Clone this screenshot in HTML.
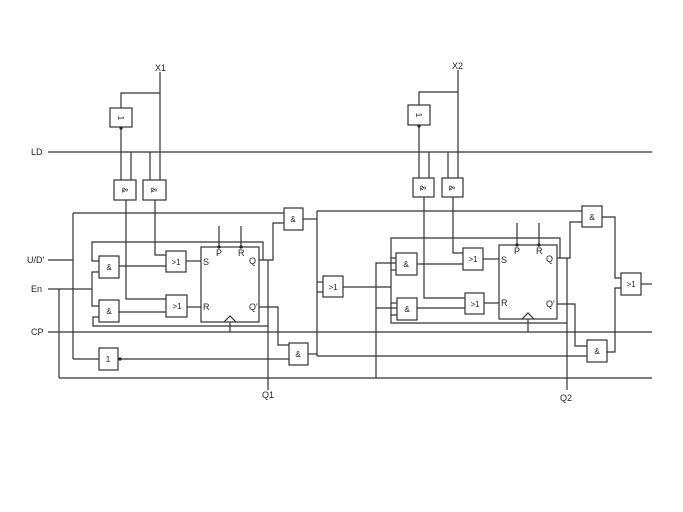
<!DOCTYPE html>
<html><head><meta charset="utf-8"><style>
html,body{margin:0;padding:0;background:#fff}
svg{display:block}
text{font-family:"Liberation Sans",sans-serif;fill:#222}
</style></head><body>
<svg width="683" height="512" viewBox="0 0 683 512" xmlns="http://www.w3.org/2000/svg">
<g stroke="#333" stroke-width="1.2" fill="none">
<!-- buses -->
<line x1="48" y1="152" x2="652" y2="152"/>
<line x1="48" y1="332" x2="652" y2="332"/>
<line x1="59" y1="378" x2="652" y2="378"/>
<polyline points="48,289 92,289"/>
<line x1="59" y1="289" x2="59" y2="378"/>
<polyline points="48,260 73,260"/>
<line x1="73" y1="213" x2="73" y2="359"/>
<polyline points="73,213 284,213"/>
<polyline points="73,359 99,359"/>
<!-- stage 1 top -->
<line x1="160" y1="72" x2="160" y2="180"/>
<polyline points="160,93 121,93 121,108"/>
<rect x="110" y="108" width="22" height="19" fill="#fff"/>
<line x1="121" y1="128" x2="121" y2="180"/>
<line x1="131" y1="152" x2="131" y2="180"/>
<line x1="150" y1="152" x2="150" y2="180"/>
<rect x="114" y="180" width="22" height="20" fill="#fff"/>
<rect x="143" y="180" width="23" height="20" fill="#fff"/>
<polyline points="126,200 126,299 166,299"/>
<polyline points="155,200 155,255 166,255"/>
<!-- stage 1 gates -->
<rect x="166" y="251" width="20" height="21" fill="#fff"/>
<rect x="166" y="295" width="21" height="22" fill="#fff"/>
<line x1="186" y1="261" x2="201" y2="261"/>
<line x1="187" y1="307" x2="201" y2="307"/>
<rect x="201" y="247" width="58" height="75" fill="#fff"/>
<line x1="219" y1="226" x2="219" y2="247"/>
<line x1="241" y1="226" x2="241" y2="247"/>
<polyline points="224,322 230,316 236,322"/>
<line x1="230" y1="322" x2="230" y2="332"/>
<rect x="99" y="256" width="20" height="22" fill="#fff"/>
<rect x="99" y="300" width="20" height="22" fill="#fff"/>
<line x1="119" y1="266" x2="166" y2="266"/>
<line x1="119" y1="312" x2="166" y2="312"/>
<polyline points="99,261 92,261 92,242 263,242 263,260"/>
<polyline points="99,272 92,272 92,306 99,306"/>
<polyline points="99,317 93,317 93,326 268,326"/>
<polyline points="259,260 273,260 273,223 284,223"/>
<line x1="268" y1="260" x2="268" y2="390"/>
<polyline points="259,307 278,307 278,345 289,345"/>
<rect x="284" y="208" width="19" height="22" fill="#fff"/>
<rect x="289" y="343" width="19" height="22" fill="#fff"/>
<rect x="99" y="348" width="19" height="22" fill="#fff"/>
<line x1="120" y1="359" x2="289" y2="359"/>
<line x1="303" y1="219" x2="317" y2="219"/>
<line x1="308" y1="354" x2="317" y2="354"/>
<line x1="317" y1="211" x2="317" y2="356"/>
<line x1="317" y1="211" x2="582" y2="211"/>
<line x1="317" y1="356" x2="587" y2="356"/>
<line x1="317" y1="282" x2="323" y2="282"/>
<line x1="317" y1="292" x2="323" y2="292"/>
<rect x="323" y="276" width="20" height="21" fill="#fff"/>
<line x1="343" y1="287" x2="391" y2="287"/>
<!-- stage 2 top -->
<line x1="458" y1="70" x2="458" y2="178"/>
<polyline points="458,92 419,92 419,105"/>
<rect x="408" y="105" width="22" height="20" fill="#fff"/>
<line x1="419" y1="126" x2="419" y2="178"/>
<line x1="429" y1="152" x2="429" y2="178"/>
<line x1="448" y1="152" x2="448" y2="178"/>
<rect x="413" y="178" width="21" height="19" fill="#fff"/>
<rect x="442" y="178" width="21" height="19" fill="#fff"/>
<polyline points="424,197 424,298 465,298"/>
<polyline points="453,197 453,253 463,253"/>
<rect x="463" y="248" width="20" height="22" fill="#fff"/>
<rect x="465" y="293" width="19" height="21" fill="#fff"/>
<line x1="483" y1="259" x2="499" y2="259"/>
<line x1="484" y1="303" x2="499" y2="303"/>
<rect x="499" y="245" width="58" height="74" fill="#fff"/>
<line x1="517" y1="223" x2="517" y2="245"/>
<line x1="539" y1="223" x2="539" y2="245"/>
<polyline points="522,319 528,313 534,319"/>
<line x1="528" y1="319" x2="528" y2="332"/>
<rect x="396" y="253" width="21" height="22" fill="#fff"/>
<rect x="397" y="298" width="20" height="22" fill="#fff"/>
<line x1="417" y1="264" x2="463" y2="264"/>
<line x1="417" y1="308" x2="465" y2="308"/>
<polyline points="396,258 391,258 391,238 560,238 560,258"/>
<line x1="391" y1="258" x2="391" y2="315"/>
<polyline points="391,270 396,270"/>
<polyline points="391,303 397,303"/>
<polyline points="397,315 391,315 391,323 567,323"/>
<polyline points="376,378 376,263 396,263"/>
<line x1="376" y1="308" x2="397" y2="308"/>
<polyline points="557,258 570,258 570,222 582,222"/>
<line x1="567" y1="258" x2="567" y2="390"/>
<polyline points="557,304 575,304 575,346 587,346"/>
<rect x="582" y="206" width="20" height="21" fill="#fff"/>
<rect x="587" y="340" width="20" height="22" fill="#fff"/>
<polyline points="602,217 615,217 615,278 621,278"/>
<polyline points="607,352 615,352 615,288 621,288"/>
<rect x="621" y="273" width="20" height="22" fill="#fff"/>
<line x1="641" y1="284" x2="652" y2="284"/>
</g>
<g fill="#222">
<circle cx="121" cy="128" r="1.6"/><circle cx="419" cy="126" r="1.6"/>
<circle cx="120" cy="359" r="1.6"/>
<circle cx="219" cy="247" r="1.6"/><circle cx="241" cy="247" r="1.6"/>
<circle cx="517" cy="245" r="1.6"/><circle cx="539" cy="245" r="1.6"/>
</g>
<g font-size="9">
<text x="155" y="71">X1</text><text x="452" y="69">X2</text>
<text x="31" y="155">LD</text><text x="27" y="263">U/D'</text>
<text x="31" y="292">En</text><text x="31" y="335">CP</text>
<text x="262" y="398">Q1</text><text x="560" y="401">Q2</text>
<text x="203" y="265">S</text><text x="203" y="310">R</text>
<text x="216" y="256">P</text><text x="238" y="256">R</text>
<text x="249" y="264">Q</text><text x="249" y="310">Q'</text>
<text x="501" y="263">S</text><text x="501" y="306">R</text>
<text x="514" y="254">P</text><text x="536" y="254">R</text>
<text x="546" y="262">Q</text><text x="546" y="307">Q'</text>
</g>
<g font-size="8" text-anchor="middle">
<text x="176" y="265">&gt;1</text><text x="177" y="309">&gt;1</text>
<text x="109" y="270">&amp;</text><text x="109" y="314">&amp;</text>
<text x="293" y="222">&amp;</text><text x="298" y="357">&amp;</text>
<text x="108" y="362">1</text><text x="333" y="290">&gt;1</text>
<text x="473" y="262">&gt;1</text><text x="475" y="307">&gt;1</text>
<text x="406" y="267">&amp;</text><text x="407" y="312">&amp;</text>
<text x="592" y="220">&amp;</text><text x="597" y="354">&amp;</text>
<text x="631" y="287">&gt;1</text>
<text transform="translate(121,118) rotate(90)" y="3">1</text>
<text transform="translate(419,115) rotate(90)" y="3">1</text>
<text transform="translate(125,190) rotate(90)" y="3">&amp;</text>
<text transform="translate(154,190) rotate(90)" y="3">&amp;</text>
<text transform="translate(423,188) rotate(90)" y="3">&amp;</text>
<text transform="translate(452,188) rotate(90)" y="3">&amp;</text>
</g>
</svg>
</body></html>
